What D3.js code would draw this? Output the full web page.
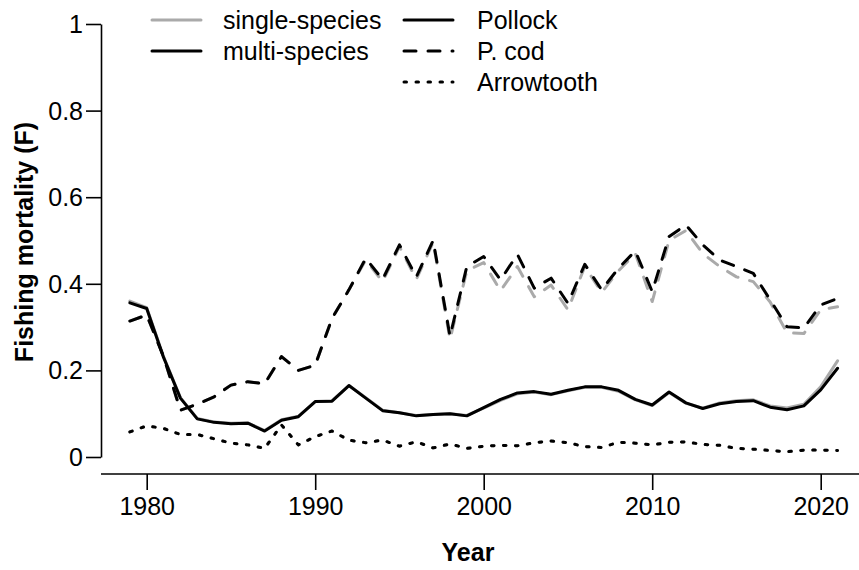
<!DOCTYPE html>
<html><head><meta charset="utf-8">
<script src="https://cdn.jsdelivr.net/npm/d3@7"></script>
<style>
body{margin:0;background:#fff}
svg text{font-family:"Liberation Sans",Arial,Helvetica,sans-serif;fill:#000}
</style>
</head><body>
<svg id="c" width="859" height="570"></svg>
<script>
const years=[1979,1980,1981,1982,1983,1984,1985,1986,1987,1988,1989,1990,1991,1992,1993,1994,1995,1996,1997,1998,1999,2000,2001,2002,2003,2004,2005,2006,2007,2008,2009,2010,2011,2012,2013,2014,2015,2016,2017,2018,2019,2020,2021];

const pollockMulti=[0.356,0.343,0.230,0.136,0.088,0.080,0.077,0.078,0.060,0.085,0.093,0.128,0.129,0.165,0.136,0.107,0.102,0.095,0.098,0.100,0.095,0.114,0.133,0.148,0.151,0.145,0.154,0.162,0.162,0.154,0.133,0.120,0.150,0.125,0.112,0.123,0.128,0.130,0.115,0.109,0.118,0.155,0.205];
const pollockSingle=[0.360,0.345,0.232,0.137,0.089,0.081,0.078,0.079,0.061,0.086,0.094,0.128,0.130,0.165,0.137,0.108,0.102,0.096,0.098,0.100,0.096,0.113,0.131,0.146,0.150,0.144,0.153,0.161,0.161,0.152,0.132,0.119,0.149,0.124,0.113,0.125,0.130,0.132,0.118,0.113,0.122,0.162,0.222];

const codMulti=[0.314,0.328,0.232,0.108,0.122,0.139,0.166,0.174,0.169,0.232,0.200,0.212,0.320,0.386,0.459,0.410,0.490,0.416,0.500,0.279,0.440,0.463,0.409,0.468,0.390,0.413,0.355,0.445,0.386,0.436,0.476,0.382,0.509,0.536,0.490,0.455,0.440,0.424,0.363,0.301,0.298,0.351,0.366];
const codSingle=[0.314,0.328,0.232,0.108,0.122,0.139,0.166,0.174,0.169,0.232,0.200,0.212,0.320,0.386,0.455,0.405,0.486,0.410,0.496,0.272,0.430,0.449,0.384,0.440,0.370,0.397,0.340,0.440,0.380,0.430,0.470,0.359,0.500,0.523,0.470,0.440,0.416,0.405,0.358,0.287,0.285,0.340,0.347];

const arrowMulti=[0.058,0.072,0.066,0.052,0.052,0.042,0.032,0.028,0.020,0.074,0.028,0.047,0.060,0.039,0.033,0.039,0.025,0.035,0.021,0.030,0.020,0.025,0.027,0.026,0.033,0.037,0.033,0.024,0.022,0.034,0.032,0.028,0.034,0.035,0.029,0.027,0.020,0.018,0.015,0.012,0.016,0.016,0.015];
const arrowSingle=[0.058,0.072,0.066,0.052,0.052,0.042,0.032,0.028,0.020,0.074,0.028,0.047,0.060,0.039,0.033,0.039,0.025,0.035,0.021,0.030,0.020,0.025,0.027,0.026,0.033,0.037,0.033,0.024,0.022,0.034,0.032,0.028,0.034,0.035,0.029,0.027,0.020,0.018,0.015,0.012,0.016,0.016,0.015];

const xTicks=[1980,1990,2000,2010,2020];
const yTicks=[0,0.2,0.4,0.6,0.8,1];
const yTickLabels=["0","0.2","0.4","0.6","0.8","1"];
const modelLabels=["single-species","multi-species"];
const speciesLabels=["Pollock","P. cod","Arrowtooth"];

const GRAY="#aaaaaa", BLACK="#000000";
const dashes={solid:null, dash:"12,12", dot:"2.5,9.5"};

const svg=d3.select("#c");
const x=d3.scaleLinear().domain([1980,2020]).range([146.7,820.7]);
const y=d3.scaleLinear().domain([0,1]).range([457,24]);

// axes
const yAxis=svg.append("g").attr("transform","translate(101,0)")
  .call(d3.axisLeft(y).tickValues(yTicks).tickFormat((d,i)=>yTickLabels[i]).tickSize(15).tickSizeOuter(0).tickPadding(3));
yAxis.selectAll("path,line").attr("stroke","#000").attr("stroke-width",1.6);
yAxis.selectAll("text").attr("font-size",25).attr("font-family","Liberation Sans, Arial, sans-serif").attr("dy","0.34em");

const xAxis=svg.append("g").attr("transform","translate(0,474)")
  .call(d3.axisBottom(x).tickValues(xTicks).tickFormat(d3.format("d")).tickSize(16).tickSizeOuter(0).tickPadding(7));
xAxis.select(".domain").remove();
xAxis.selectAll("line").attr("stroke","#000").attr("stroke-width",1.6);
xAxis.selectAll("text").attr("font-size",25).attr("font-family","Liberation Sans, Arial, sans-serif");
xAxis.append("line").attr("x1",101).attr("x2",859).attr("y1",0).attr("y2",0).attr("stroke","#000").attr("stroke-width",1.6);

// titles
svg.append("text").attr("x",468).attr("y",561).attr("text-anchor","middle")
  .attr("font-size",25).attr("font-weight","bold").text("Year");
svg.append("text").attr("transform","translate(33,242) rotate(-90)").attr("text-anchor","middle")
  .attr("font-size",25).attr("font-weight","bold").text("Fishing mortality (F)");

// lines
const line=d3.line().x((d,i)=>x(years[i])).y(d=>y(d));
const series=[
  {v:pollockSingle,c:GRAY,d:dashes.solid},
  {v:codSingle,c:GRAY,d:dashes.dash},
  {v:arrowSingle,c:GRAY,d:dashes.dot},
  {v:pollockMulti,c:BLACK,d:dashes.solid},
  {v:codMulti,c:BLACK,d:dashes.dash},
  {v:arrowMulti,c:BLACK,d:dashes.dot}
];
svg.append("g").selectAll("path").data(series).join("path")
  .attr("d",s=>line(s.v)).attr("fill","none").attr("stroke",s=>s.c)
  .attr("stroke-width",3).attr("stroke-linejoin","round").attr("stroke-linecap","round")
  .attr("stroke-dasharray",s=>s.d);

// legend
const rowY=[20,51,82];
const lg=svg.append("g");
modelLabels.forEach((t,i)=>{
  lg.append("line").attr("x1",152).attr("x2",201).attr("y1",rowY[i]).attr("y2",rowY[i])
    .attr("stroke",i===0?GRAY:BLACK).attr("stroke-width",3).attr("stroke-linecap","round");
  lg.append("text").attr("x",223).attr("y",rowY[i]+9).attr("font-size",25).text(t);
});
const spStyles=[dashes.solid,dashes.dash,dashes.dot];
speciesLabels.forEach((t,i)=>{
  lg.append("line").attr("x1",404).attr("x2",453).attr("y1",rowY[i]).attr("y2",rowY[i])
    .attr("stroke",BLACK).attr("stroke-width",3).attr("stroke-linecap","round")
    .attr("stroke-dasharray",spStyles[i]);
  lg.append("text").attr("x",477).attr("y",rowY[i]+9).attr("font-size",25).text(t);
});
</script>
</body></html>
